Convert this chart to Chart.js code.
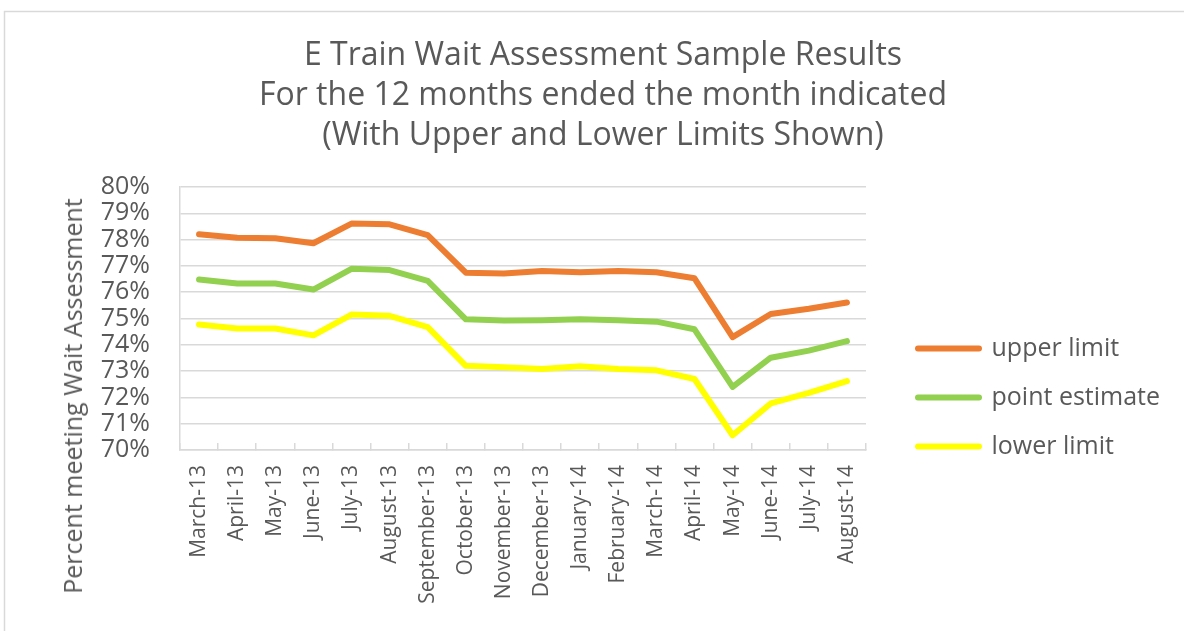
<!DOCTYPE html>
<html>
<head>
<meta charset="utf-8">
<script src="https://cdn.jsdelivr.net/npm/chart.js@4.4.1/dist/chart.umd.min.js"></script>
<style>
  html, body { margin: 0; padding: 0; background: #ffffff; }
  #wrap { position: relative; width: 1184px; height: 631px; overflow: hidden; }
  #c { position: absolute; left: 0; top: 0; }
  #ytitle {
    position: absolute; left: 72px; top: 396px;
    transform: translate(-50%, -50%) rotate(-90deg);
    white-space: nowrap; font-family: "Open Sans", sans-serif; font-size: 25px; color: #595959;
  }
</style>
</head>
<body>
<div id="wrap">
  <canvas id="c" width="1184" height="631"></canvas>
  <div id="ytitle">Percent meeting Wait Assessment</div>
</div>
<script>
const categories = ["March-13","April-13","May-13","June-13","July-13","August-13","September-13","October-13","November-13","December-13","January-14","February-14","March-14","April-14","May-14","June-14","July-14","August-14"];
const upperLimit = [78.20,78.07,78.05,77.86,78.61,78.58,78.17,76.74,76.71,76.81,76.76,76.81,76.76,76.53,74.29,75.17,75.37,75.61];
const pointEstimate = [76.48,76.33,76.33,76.10,76.89,76.84,76.43,74.97,74.92,74.93,74.97,74.93,74.88,74.59,72.40,73.51,73.78,74.14];
const lowerLimit = [74.77,74.62,74.62,74.36,75.15,75.10,74.67,73.20,73.15,73.08,73.18,73.08,73.03,72.70,70.56,71.77,72.17,72.62];
const seriesNames = ["upper limit","point estimate","lower limit"];
const titleLines = ["E Train Wait Assessment Sample Results","For the 12 months ended the month indicated","(With Upper and Lower Limits Shown)"];
const yMin = 70, yMax = 80, yStep = 1;

const TEXT = '#595959';
const GRID = '#d9d9d9';
const FONT = '"Open Sans", sans-serif';
const LEGEND_W = 290;

const frame = {
  id: 'frame',
  beforeDraw(chart) {
    const ctx = chart.ctx;
    ctx.save();
    ctx.strokeStyle = GRID;
    ctx.lineWidth = 1.5;
    ctx.strokeRect(4.5, 11.5, 1300, 800);
    ctx.restore();
  }
};

// keep the legend box at a fixed width on the right
const legendWidth = {
  id: 'legendWidth',
  beforeUpdate(chart) {
    const lg = chart.legend;
    if (lg && !lg._fixedW) {
      const orig = lg.fit.bind(lg);
      lg.fit = function () { orig(); this.width = LEGEND_W; };
      lg._fixedW = true;
    }
  }
};

function ds(label, data, color) {
  return {
    label, data,
    borderColor: color, backgroundColor: color,
    borderWidth: 6, pointRadius: 0, pointHoverRadius: 0,
    tension: 0, borderCapStyle: 'round', borderJoinStyle: 'round', fill: false
  };
}

new Chart(document.getElementById('c'), {
  type: 'line',
  data: {
    labels: categories,
    datasets: [
      ds(seriesNames[0], upperLimit, '#ED7D31'),
      ds(seriesNames[1], pointEstimate, '#92D050'),
      ds(seriesNames[2], lowerLimit, '#FFFF00')
    ]
  },
  options: {
    responsive: false,
    animation: false,
    devicePixelRatio: 1,
    layout: { padding: { left: 22, right: 0, top: 0, bottom: 0 } },
    plugins: {
      tooltip: { enabled: false },
      title: {
        display: true, text: titleLines, color: TEXT,
        font: { family: FONT, size: 32, weight: 'normal', lineHeight: 1.25 },
        padding: { top: 36, bottom: 31 }
      },
      legend: {
        display: true, position: 'right', align: 'center',
        title: { display: true, text: ' ', font: { size: 10, lineHeight: 1 }, padding: { top: 154, bottom: 0 } },
        labels: {
          boxWidth: 61, boxHeight: 0, padding: 24, color: TEXT,
          font: { family: FONT, size: 25 }
        }
      }
    },
    scales: {
      x: {
        type: 'category', offset: true,
        grid: { display: true, drawOnChartArea: false, drawTicks: true, tickLength: -7, color: GRID, lineWidth: 1.5, offset: true },
        border: { display: true, color: GRID, width: 1.5 },
        ticks: { color: TEXT, font: { family: FONT, size: 21 }, minRotation: 90, maxRotation: 90, autoSkip: false, padding: 22 },
        afterFit(s) { s.height = 181; }
      },
      y: {
        min: yMin, max: yMax,
        grid: { color: GRID, lineWidth: 1.5, drawTicks: false },
        border: { display: true, color: GRID, width: 1.5 },
        ticks: { stepSize: yStep, autoSkip: false, padding: 30, color: TEXT, font: { family: FONT, size: 25 }, callback: v => v + '%' },
        afterFit(s) { s.width = 158; }
      },
      yR: {
        type: 'linear', position: 'right', display: true,
        grid: { display: false }, border: { display: false },
        ticks: { display: false },
        afterFit(s) { s.width = 28; }
      }
    }
  },
  plugins: [frame, legendWidth]
});
</script>
</body>
</html>
